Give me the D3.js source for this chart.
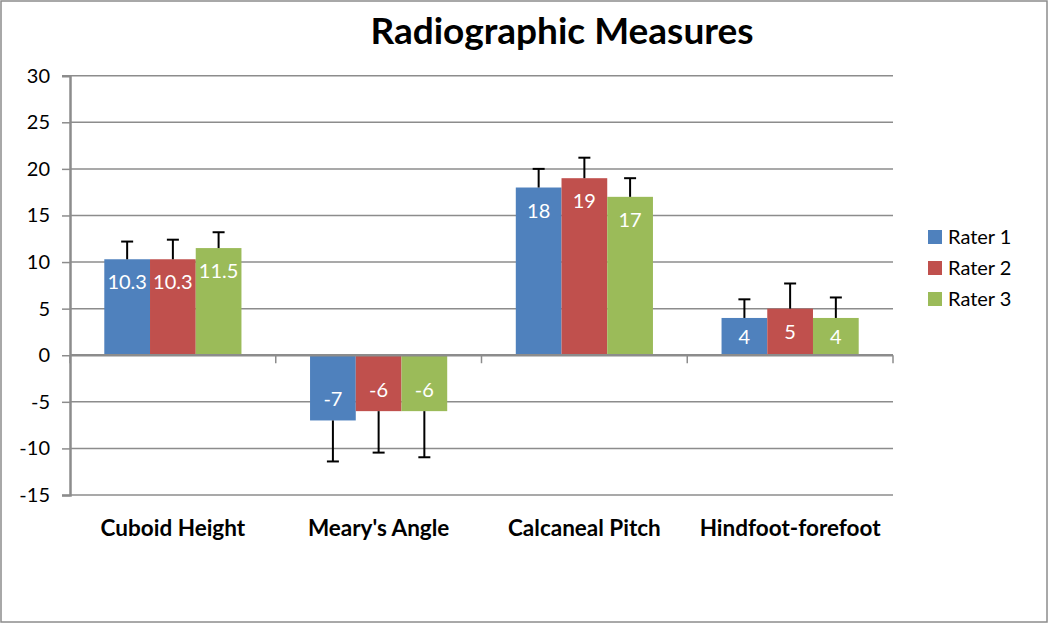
<!DOCTYPE html>
<html><head><meta charset="utf-8">
<script src="https://cdn.jsdelivr.net/npm/d3@7"></script>
<style>body{margin:0;background:#fff}svg{display:block}text{font-family:Lato,"Open Sans",sans-serif}</style>
</head><body><svg id="c" width="1050" height="625"></svg>
<script>
const categories = ["Cuboid Height", "Meary's Angle", "Calcaneal Pitch", "Hindfoot-forefoot"];
const seriesNames = ["Rater 1", "Rater 2", "Rater 3"];
const rater1 = [10.3, -7, 18, 4];
const rater2 = [10.3, -6, 19, 5];
const rater3 = [11.5, -6, 17, 4];
const err1 = [1.9, 4.4, 2.0, 2.0];
const err2 = [2.1, 4.45, 2.2, 2.7];
const err3 = [1.7, 4.95, 2.0, 2.2];
const yTicks = [-15, -10, -5, 0, 5, 10, 15, 20, 25, 30];
const colors = ["#4F81BD", "#C0504D", "#9BBB59"];

const values = [rater1, rater2, rater3];
const errs = [err1, err2, err3];
const svg = d3.select("#c");
const L = 70, R = 893, T = 75.7, B = 495;

svg.append("rect").attr("x", 1).attr("y", 1).attr("width", 1046).attr("height", 621)
  .attr("fill", "#fff").attr("stroke", "#8c8c8c").attr("stroke-width", 1.5);

const y = d3.scaleLinear().domain([-15, 30]).range([B, T]);
const x0 = d3.scaleBand().domain(categories).range([L, R]).paddingInner(0).paddingOuter(0);
const bw = x0.bandwidth() / (3 + 1.5);
const x1 = d3.scaleBand().domain(seriesNames).range([0, bw * 3]);

// gridlines
svg.append("g").selectAll("line").data(yTicks).join("line")
  .attr("x1", L).attr("x2", R).attr("y1", d => y(d)).attr("y2", d => y(d))
  .attr("stroke", "#8c8c8c").attr("stroke-width", 1.5);

// y axis
const ya = svg.append("g").attr("transform", `translate(${L},0)`)
  .call(d3.axisLeft(y).tickValues(yTicks).tickSize(8).tickPadding(12).tickFormat(d => String(d)));
ya.select(".domain").attr("stroke", "#8c8c8c").attr("stroke-width", 2.5);
ya.selectAll(".tick line").attr("stroke", "#8c8c8c").attr("stroke-width", 1.5);
ya.selectAll("text").attr("font-size", 20).attr("fill", "#000").attr("font-family", "Lato, sans-serif");

// bars
const groups = svg.append("g").selectAll("g").data(categories).join("g")
  .attr("transform", d => `translate(${x0(d) + bw * 0.75},0)`);

groups.each(function(cat, ci) {
  const g = d3.select(this);
  seriesNames.forEach((s, si) => {
    const v = values[si][ci];
    const bx = x1(s);
    const y0 = y(0), yv = y(v);
    g.append("rect").attr("x", bx).attr("width", x1.bandwidth())
      .attr("y", Math.min(y0, yv)).attr("height", Math.abs(y0 - yv)).attr("fill", colors[si]);
    const e = errs[si][ci];
    const ye = y(v + Math.sign(v) * e);
    const cx = bx + x1.bandwidth() / 2;
    g.append("line").attr("x1", cx).attr("x2", cx).attr("y1", yv).attr("y2", ye)
      .attr("stroke", "#000").attr("stroke-width", 2);
    g.append("line").attr("x1", cx - 6).attr("x2", cx + 6).attr("y1", ye).attr("y2", ye)
      .attr("stroke", "#000").attr("stroke-width", 2);
    const h = Math.abs(y0 - yv);
    const off = Math.min(v > 0 ? 23 : 21, h / 2);
    const ly = v > 0 ? yv + off : yv - off;
    g.append("text").attr("x", cx).attr("y", ly).attr("dy", "0.35em")
      .attr("text-anchor", "middle").attr("fill", "#fff").attr("font-size", 20).text(v);
  });
});

// x axis at zero
const xa = svg.append("g").attr("transform", `translate(0,${y(0)})`);
xa.append("line").attr("x1", L).attr("x2", R).attr("stroke", "#8c8c8c").attr("stroke-width", 2.5);
xa.selectAll(".tk").data(d3.range(categories.length + 1)).join("line")
  .attr("x1", i => L + i * x0.bandwidth()).attr("x2", i => L + i * x0.bandwidth())
  .attr("y1", 0).attr("y2", 8).attr("stroke", "#8c8c8c").attr("stroke-width", 1.5);

// category labels
svg.append("g").selectAll("text").data(categories).join("text")
  .attr("x", d => x0(d) + x0.bandwidth() / 2).attr("y", 528).attr("dy", "0.35em")
  .attr("text-anchor", "middle").attr("font-size", 22.5).attr("font-weight", "bold").text(d => d);

// title
svg.append("text").attr("x", 562).attr("y", 31).attr("dy", "0.35em").attr("text-anchor", "middle")
  .attr("font-size", 37).attr("font-weight", "bold").text("Radiographic Measures");

// legend
const lg = svg.append("g").selectAll("g").data(seriesNames).join("g")
  .attr("transform", (d, i) => `translate(928,${237 + i * 31})`);
lg.append("rect").attr("x", 0).attr("y", -7).attr("width", 14).attr("height", 14).attr("fill", (d, i) => colors[i]);
lg.append("text").attr("x", 20).attr("y", 0).attr("dy", "0.35em").attr("font-size", 20).text(d => d);
</script></body></html>
